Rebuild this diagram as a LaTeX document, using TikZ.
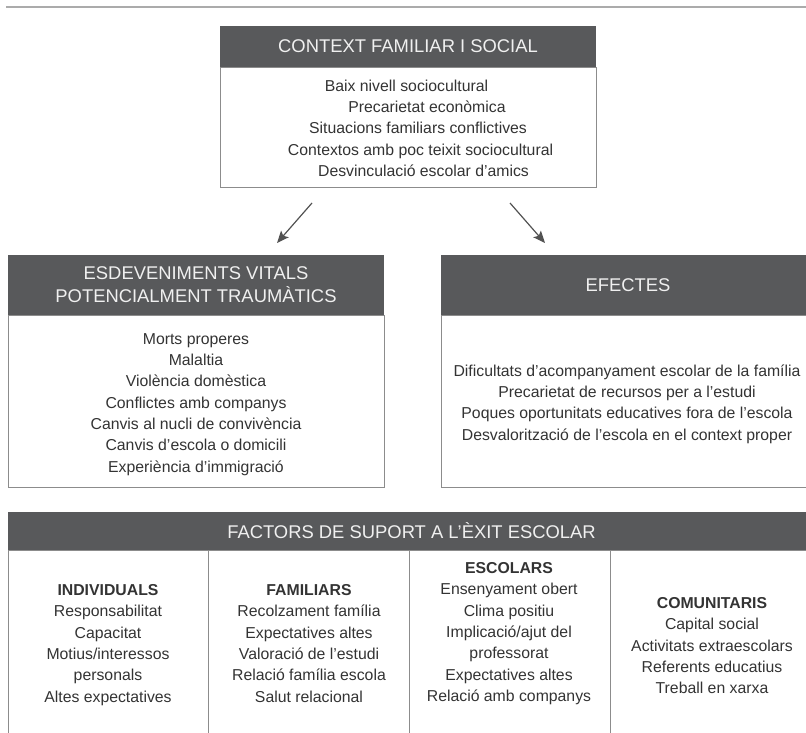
\documentclass[tikz,border=0pt]{standalone}
\usepackage{fontspec}
\setmainfont{Liberation Sans}
\usepackage{xcolor}
\usetikzlibrary{positioning, arrows.meta}
\definecolor{headgray}{HTML}{58595B}
\definecolor{framegray}{HTML}{8C8C8C}
\definecolor{textgray}{HTML}{333333}
\definecolor{rulegray}{HTML}{ABABAB}

\begin{document}
\begin{tikzpicture}[x=1pt, y=-1pt,
  header/.style={fill=headgray, text=white!94!black, inner sep=0pt, outer sep=0pt, align=center, font=\fontsize{18.4}{23}\selectfont},
  bodybox/.style={draw=framegray, line width=0.9pt, inner sep=0pt, outer sep=0pt},
  bodytext/.style={text=textgray, align=center, inner sep=0pt, font=\fontsize{15.8}{21.3}\selectfont},
  pointer/.style={draw=black!68, line width=1.2pt, -{Stealth[length=12pt, width=10pt, inset=2.5pt]}}]
\useasboundingbox (0,0) rectangle (806,733);
\clip (0,0) rectangle (806,733);
\draw [rulegray, line width=2pt] (6,7) -- (806,7);

\node [bodybox, minimum width=376pt, minimum height=120pt] (ctxbody) at (408,127) {};
\node [header, minimum width=376pt, minimum height=41pt, above=0pt of ctxbody] (ctxhead) {CONTEXT FAMILIAR I SOCIAL};
\foreach \cx/\cy/\txt [count=\i] in {406.5/91.2/Baix nivell sociocultural, 427/112.4/Precarietat econòmica, 418/134/Situacions familiars conflictives, 420.5/155.7/Contextos amb poc teixit sociocultural, 423.5/176.2/Desvinculació escolar d’amics}
  \node [bodytext, anchor=base] (ctx\i) at (\cx,\cy) {\txt};

\coordinate (lstart) at (312,203);
\coordinate (lend) at (277,243);
\coordinate (rstart) at (510,203);
\coordinate (rend) at (545,243);
\draw [pointer] (lstart) -- (lend);
\draw [pointer] (rstart) -- (rend);

\node [bodybox, minimum width=376pt, minimum height=172pt] (evbody) at (196,401) {};
\node [header, minimum width=376pt, minimum height=60pt, above=0pt of evbody] (evhead) {ESDEVENIMENTS VITALS\\POTENCIALMENT TRAUMÀTICS};
\node [bodytext, anchor=north] (evtext) at (196,333.3) {Morts properes\\Malaltia\\Violència domèstica\\Conflictes amb companys\\Canvis al nucli de convivència\\Canvis d’escola o domicili\\Experiència d’immigració};

\node [bodybox, minimum width=374pt, minimum height=172pt] (efbody) at (628,401) {};
\node [header, minimum width=374pt, minimum height=60pt, above=0pt of efbody] (efhead) {EFECTES};
\node [bodytext, anchor=north] (eftext) at (627,364.3) {Dificultats d’acompanyament escolar de la família\\Precarietat de recursos per a l’estudi\\Poques oportunitats educatives fora de l’escola\\Desvalorització de l’escola en el context proper};

\node [bodybox, minimum width=807pt, minimum height=200pt] (supbody) at (411.5,650) {};
\node [header, minimum width=807pt, minimum height=38pt, above=0pt of supbody] (suphead) {FACTORS DE SUPORT A L’ÈXIT ESCOLAR};
\foreach \dx in {208, 409, 610}
  \draw [framegray, line width=0.9pt] (\dx,550) -- (\dx,750);
\node [bodytext, anchor=north] (indiv) at (108,584.3) {\textbf{INDIVIDUALS}\\Responsabilitat\\Capacitat\\Motius/interessos\\personals\\Altes expectatives};
\node [bodytext, anchor=north] (famil) at (309,584.3) {\textbf{FAMILIARS}\\Recolzament família\\Expectatives altes\\Valoració de l’estudi\\Relació família escola\\Salut relacional};
\node [bodytext, anchor=north] (escol) at (509,562.3) {\textbf{ESCOLARS}\\Ensenyament obert\\Clima positiu\\Implicació/ajut del\\professorat\\Expectatives altes\\Relació amb companys};
\node [bodytext, anchor=north] (comun) at (712,597.3) {\textbf{COMUNITARIS}\\Capital social\\Activitats extraescolars\\Referents educatius\\Treball en xarxa};
\end{tikzpicture}
\end{document}
